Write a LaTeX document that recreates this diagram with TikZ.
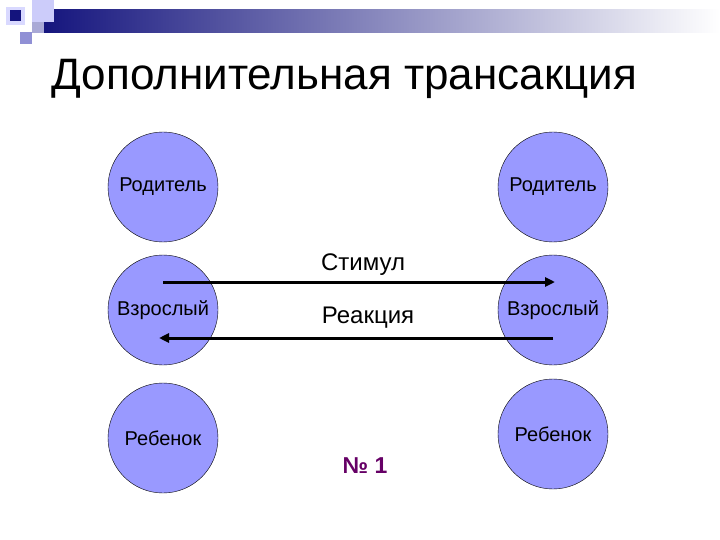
\documentclass[tikz,border=0pt]{standalone}
\usepackage{fontspec}
\setmainfont{Liberation Sans}
\usetikzlibrary{arrows.meta}
\definecolor{egofill}{RGB}{153,153,255}
\definecolor{barnavy}{RGB}{20,20,125}
\definecolor{numpurple}{RGB}{102,0,102}
\tikzset{
  ego/.style={circle, draw=black, thin, fill=egofill, minimum size=110pt, inner sep=0pt, font=\fontsize{20}{22}\selectfont},
  msg/.style={line width=3pt, -{Triangle[length=10pt,width=9pt]}},
}
\begin{document}
\begin{tikzpicture}[x=1pt, y=-1pt]
\useasboundingbox (0,0) rectangle (720,540);
% top decoration
\shade[left color=barnavy, right color=white] (40,10) rectangle (720,33);
\fill[black!10!blue!20] (32,0) rectangle (54,22);
\fill[blue!35!gray!50] (32,22) rectangle (44,33);
\fill[blue!45!gray!60] (20,32) rectangle (32,44);
\fill[blue!15] (6,7) rectangle (25,25);
\fill[barnavy] (10,10) rectangle (21,21);
\node[font=\fontsize{44}{48}\selectfont, anchor=west] (title) at (48,79) {Дополнительная трансакция};
% ego states
\node[ego] (lparent) at (163,187) {Родитель};
\node[ego] (ladult) at (163,310) {Взрослый};
\node[ego] (lchild) at (163,438) {Ребенок};
\node[ego] (rparent) at (553,187) {Родитель};
\node[ego] (radult) at (553,310) {Взрослый};
\node[ego] (rchild) at (553,434) {Ребенок};
% transaction
\draw[msg] ([yshift=28pt]ladult.center) -- ([yshift=28pt,xshift=2pt]radult.center);
\draw[msg] ([yshift=-28pt]radult.center) -- ([yshift=-28pt,xshift=-4pt]ladult.center);
\node[font=\fontsize{24}{27}\selectfont] (stim) at (363,265) {Стимул};
\node[font=\fontsize{24}{27}\selectfont] (react) at (368,318) {Реакция};
\node[font=\fontsize{23}{26}\selectfont\bfseries, text=numpurple] (num) at (365,466) {№ 1};
\end{tikzpicture}
\end{document}
